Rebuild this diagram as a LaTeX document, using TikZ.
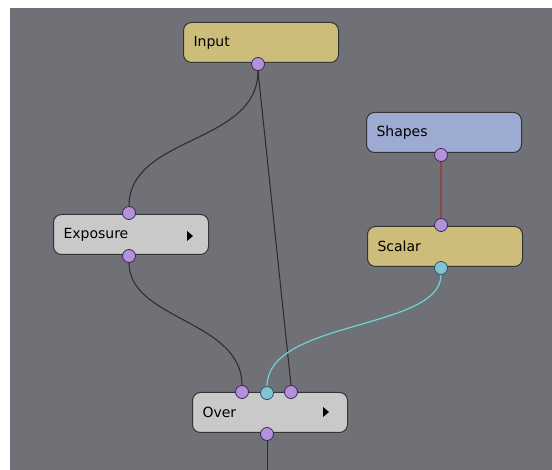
\documentclass[tikz,border=0pt]{standalone}
\usepackage{fontspec}
\setmainfont{DejaVu Sans}
\usetikzlibrary{shadows}
\definecolor{bg}{HTML}{707176}
\definecolor{khaki}{HTML}{CDBD7B}
\definecolor{bluish}{HTML}{9DAAD2}
\definecolor{lgray}{HTML}{C9C9CA}
\definecolor{portp}{HTML}{B293DA}
\definecolor{portpd}{HTML}{3F2460}
\definecolor{portc}{HTML}{84C4D2}
\definecolor{portcd}{HTML}{2A5560}
\definecolor{wire}{HTML}{2A2A2C}
\definecolor{redwire}{HTML}{8A4A48}
\definecolor{cyanwire}{HTML}{6FD3D8}
\tikzset{
  x=1pt,y=-1pt,
  opnode/.style={draw=black!80,line width=1pt,rounded corners=8pt,minimum width=155pt,minimum height=40pt,
    text width=135pt,align=left,inner sep=0pt,font=\fontsize{14}{16}\selectfont,anchor=north west,
    drop shadow={shadow xshift=1pt,shadow yshift=-1.5pt,opacity=0.35}},
  port/.style={circle,draw=portpd,line width=0.8pt,fill=portp,minimum size=13pt,inner sep=0pt},
  cport/.style={circle,draw=portcd,line width=0.8pt,fill=portc,minimum size=13pt,inner sep=0pt},
  conn/.style={draw=wire,line width=1pt}
}
\begin{document}
\begin{tikzpicture}
\useasboundingbox (0,0) rectangle (552,470);
\fill[white] (0,0) rectangle (552,470);
\fill[bg] (10,8) rectangle (552,470);

\coordinate (outend) at (267,470);

\node[opnode,fill=khaki] (input) at (183,22) {Input};
\node[opnode,fill=bluish] (shapes) at (366,112) {Shapes};
\node[opnode,fill=khaki] (scalar) at (367,226) {Scalar};
\node[opnode,fill=lgray] (exposure) at (53,214) {Exposure};
\node[opnode,fill=lgray] (over) at (192,392) {Over};

\fill[black] (187,231) -- (193,236) -- (187,241) -- cycle;
\fill[black] (323,407) -- (329,412) -- (323,417) -- cycle;

% ports
\node[port] (inOut) at (258,64) {};
\node[port] (shOut) at (441,155) {};
\node[port] (scIn) at (441,225) {};
\node[cport] (scOut) at (441,268) {};
\node[port] (exIn) at (129,213) {};
\node[port] (exOut) at (129,256) {};
\node[port] (ovA) at (242,392) {};
\node[cport] (ovB) at (267,393) {};
\node[port] (ovC) at (291,392) {};
\node[port] (ovOut) at (267,434) {};

% connectors
\draw[conn] (inOut.south) .. controls (258,145) and (129,135) .. (exIn.north);
\draw[conn] (inOut.south) -- (ovC.north);
\draw[draw=redwire,line width=1.3pt] (shOut.south) -- (scIn.north);
\draw[conn] (exOut.south) .. controls (129,320) and (242,320) .. (ovA.north);
\draw[draw=cyanwire,line width=1.2pt] (scOut.south) .. controls (441,330) and (267,320) .. (ovB.north);
\draw[conn] (ovOut.south) -- (outend);
\end{tikzpicture}
\end{document}
